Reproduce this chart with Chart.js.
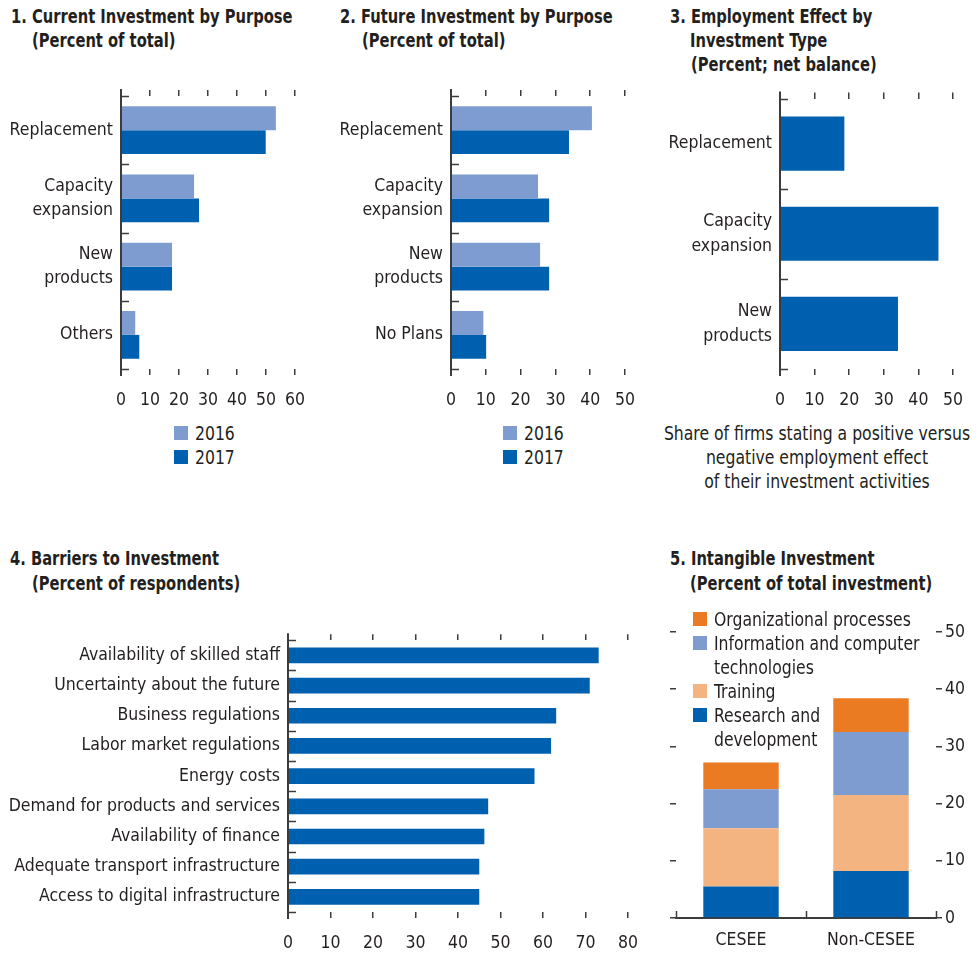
<html>
<head>
<script src="https://cdn.jsdelivr.net/npm/chart.js@4.4.1/dist/chart.umd.min.js"></script>
<style>
  body { margin:0; background:#fff; width:976px; height:954px; position:relative; overflow:hidden;
         font-family:'DejaVu Sans Condensed','DejaVu Sans',sans-serif; color:#231f20; }
  canvas { position:absolute; }
  .t { position:absolute; font-weight:bold; font-size:19px; line-height:24px; white-space:nowrap;
       transform:scaleX(0.86); transform-origin:0 0; }
  .txt { position:absolute; font-size:20px; line-height:24px; white-space:nowrap;
         transform:scaleX(0.87); transform-origin:50% 0; }
  .lg { position:absolute; font-size:20px; line-height:24px; white-space:nowrap; }
  .lg .row { position:relative; padding-left:21px; }
  .lg .sw { position:absolute; left:0; top:5px; width:14px; height:14px; }
  .lg .lab { display:inline-block; transform:scaleX(0.87); transform-origin:0 0; }
</style>
</head>
<body>

<div class="t" style="left:11px;top:4px">1. Current Investment by Purpose</div>
<div class="t" style="left:32px;top:28px">(Percent of total)</div>
<div class="t" style="left:340px;top:4px">2. Future Investment by Purpose</div>
<div class="t" style="left:362px;top:28px">(Percent of total)</div>
<div class="t" style="left:670px;top:4px">3. Employment Effect by</div>
<div class="t" style="left:690px;top:28px">Investment Type</div>
<div class="t" style="left:691px;top:52px">(Percent; net balance)</div>
<div class="t" style="left:10px;top:546px">4. Barriers to Investment</div>
<div class="t" style="left:32px;top:571px">(Percent of respondents)</div>
<div class="t" style="left:670px;top:546px">5. Intangible Investment</div>
<div class="t" style="left:690px;top:571px">(Percent of total investment)</div>

<div class="txt" style="left:617px;width:400px;top:421px;text-align:center">Share of firms stating a positive versus<br>negative employment effect<br>of their investment activities</div>

<canvas id="c1" width="330" height="354" style="left:0;top:66px"></canvas>
<canvas id="c2" width="320" height="354" style="left:330px;top:66px"></canvas>
<canvas id="c3" width="326" height="354" style="left:650px;top:66px"></canvas>
<canvas id="c4" width="660" height="334" style="left:0;top:620px"></canvas>
<canvas id="c5" width="326" height="354" style="left:650px;top:600px"></canvas>

<div class="lg" id="lg1" style="left:174px;top:421px"></div>
<div class="lg" id="lg2" style="left:503px;top:421px"></div>
<div class="lg" id="lg5" style="left:693px;top:607px"></div>

<script>
// ---- data ----
var purposeCats = ['Replacement', ['Capacity','expansion'], ['New','products'], 'Others'];
var current2016 = [53.4, 25.2, 17.6, 4.9];
var current2017 = [49.9, 26.9, 17.6, 6.3];

var futureCats = ['Replacement', ['Capacity','expansion'], ['New','products'], 'No Plans'];
var future2016 = [40.5, 25.0, 25.6, 9.3];
var future2017 = [33.9, 28.2, 28.2, 10.1];

var employCats = ['Replacement', ['Capacity','expansion'], ['New','products']];
var employNet = [18.6, 45.8, 34.1];

var barrierCats = ['Availability of skilled staff', 'Uncertainty about the future', 'Business regulations',
  'Labor market regulations', 'Energy costs', 'Demand for products and services',
  'Availability of finance', 'Adequate transport infrastructure', 'Access to digital infrastructure'];
var barrierPct = [73.1, 71.0, 63.1, 61.9, 58.0, 47.1, 46.2, 45.0, 45.0];

var regionCats = ['CESEE', 'Non-CESEE'];
var rdShare = [5.5, 8.2];
var trainingShare = [10.2, 13.3];
var ictShare = [6.8, 11.0];
var orgShare = [4.7, 5.9];

var yearNames = ['2016', '2017'];

// ---- style ----
var FONT = "'DejaVu Sans Condensed','DejaVu Sans',sans-serif";
var INK = '#231f20';
var AXIS = '#3c3c3c';
var DARK = '#0060b0';
var LIGHT = '#7f9cd1';
var ORANGE = '#ea7b23';
var PEACH = '#f4b482';

Chart.defaults.font.family = FONT;
Chart.defaults.font.size = 17.5;
Chart.defaults.font.lineHeight = 1.4;
Chart.defaults.color = INK;

// short ticks pointing into the plot at category boundaries, plus the axis line
var innerTicks = {
  id: 'innerTicks',
  afterDraw: function(chart, args, o) {
    if (!o.scale) return;
    var ctx = chart.ctx, a = chart.chartArea, s = chart.scales[o.scale];
    ctx.save();
    ctx.strokeStyle = AXIS;
    ctx.lineWidth = 1.5;
    for (var i = 0; i <= s.ticks.length; i++) {
      var p = Math.round(s.getPixelForValue(i - 0.5)) + 0.5;
      ctx.beginPath();
      if (s.isHorizontal()) { ctx.moveTo(p, a.bottom); ctx.lineTo(p, a.bottom - o.len); }
      else { ctx.moveTo(a.left, p); ctx.lineTo(a.left + o.len, p); }
      ctx.stroke();
    }
    if (o.line) {
      ctx.lineWidth = 2;
      ctx.beginPath();
      ctx.moveTo(a.left, a.top - o.extend);
      ctx.lineTo(a.left, a.bottom + o.extend);
      ctx.stroke();
    }
    ctx.restore();
  }
};
Chart.register(innerTicks);

function valueAxis(pos, max, h, showLabels) {
  return {
    type: 'linear', position: pos, min: 0, max: max,
    afterFit: function(s) { s.height = h; },
    grid: { drawOnChartArea: false, drawTicks: true, tickLength: 6, color: AXIS, lineWidth: 1.5 },
    border: { display: false },
    ticks: { display: showLabels, stepSize: 10, padding: 13, maxRotation: 0 }
  };
}

function hbar(id, labels, datasets, max, box) {
  new Chart(document.getElementById(id), {
    type: 'bar',
    data: { labels: labels, datasets: datasets },
    options: {
      indexAxis: 'y', responsive: false, animation: false,
      layout: { padding: { left: 0, right: box.right, top: box.top, bottom: 0 } },
      categoryPercentage: box.cat, barPercentage: 1.0,
      plugins: { legend: { display: false }, tooltip: { enabled: false },
                 innerTicks: { scale: 'y', len: 8, line: true, extend: 7 } },
      scales: {
        y: { type: 'category', afterFit: function(s) { s.width = box.yw; },
             grid: { display: false, drawTicks: false }, border: { display: false },
             ticks: { padding: 8, autoSkip: false } },
        x: valueAxis('bottom', max, box.xh, true),
        x2: valueAxis('top', max, 7, false)
      }
    }
  });
}

function legendHtml(el, names, colors) {
  var h = '';
  for (var i = 0; i < names.length; i++) {
    h += '<div class="row"><span class="sw" style="background:' + colors[i] + '"></span><span class="lab">' + names[i] + '</span></div>';
  }
  document.getElementById(el).innerHTML = h;
}

// panel 1
hbar('c1', purposeCats, [
  { label: yearNames[0], data: current2016, backgroundColor: LIGHT },
  { label: yearNames[1], data: current2017, backgroundColor: DARK }
], 60, { yw: 121, right: 35, top: 23, xh: 51, cat: 0.7 });

// panel 2
hbar('c2', futureCats, [
  { label: yearNames[0], data: future2016, backgroundColor: LIGHT },
  { label: yearNames[1], data: future2017, backgroundColor: DARK }
], 50, { yw: 121, right: 25, top: 23, xh: 51, cat: 0.7 });

// panel 3
hbar('c3', employCats, [
  { label: 'Net balance', data: employNet, backgroundColor: DARK }
], 50, { yw: 130, right: 21, top: 23, xh: 51, cat: 0.6 });

// panel 4
hbar('c4', barrierCats, [
  { label: 'Percent of respondents', data: barrierPct, backgroundColor: DARK }
], 80, { yw: 288, right: 32, top: 11, xh: 42, cat: 0.52 });

legendHtml('lg1', yearNames, [LIGHT, DARK]);
legendHtml('lg2', yearNames, [LIGHT, DARK]);

// panel 5
var p5sets = [
  { label: 'Research and development', data: rdShare, backgroundColor: DARK },
  { label: 'Training', data: trainingShare, backgroundColor: PEACH },
  { label: 'Information and computer technologies', data: ictShare, backgroundColor: LIGHT },
  { label: 'Organizational processes', data: orgShare, backgroundColor: ORANGE }
];
new Chart(document.getElementById('c5'), {
  type: 'bar',
  data: { labels: regionCats, datasets: p5sets },
  options: {
    responsive: false, animation: false,
    layout: { padding: { left: 0, right: 0, top: 32, bottom: 0 } },
    categoryPercentage: 0.58, barPercentage: 1.0,
    plugins: { legend: { display: false }, tooltip: { enabled: false },
               innerTicks: { scale: 'x', len: 7, line: false } },
    scales: {
      x: { type: 'category', stacked: true, afterFit: function(s) { s.height = 36; },
           grid: { display: false, drawTicks: false }, border: { display: true, color: AXIS, width: 2 },
           ticks: { padding: 10 } },
      y: { type: 'linear', position: 'left', stacked: true, min: 0, max: 50,
           afterFit: function(s) { s.width = 26; },
           grid: { drawOnChartArea: false, tickLength: 6, color: AXIS, lineWidth: 1.5 },
           border: { display: false }, ticks: { display: false, stepSize: 10 } },
      y2: { type: 'linear', position: 'right', min: 0, max: 50,
            afterFit: function(s) { s.width = 40; },
            grid: { drawOnChartArea: false, tickLength: 6, color: AXIS, lineWidth: 1.5 },
            border: { display: false }, ticks: { stepSize: 10, padding: 3 } }
    }
  }
});
legendHtml('lg5', ['Organizational processes', 'Information and computer<br>technologies', 'Training',
  'Research and<br>development'], [ORANGE, LIGHT, PEACH, DARK]);
</script>
</body>
</html>
